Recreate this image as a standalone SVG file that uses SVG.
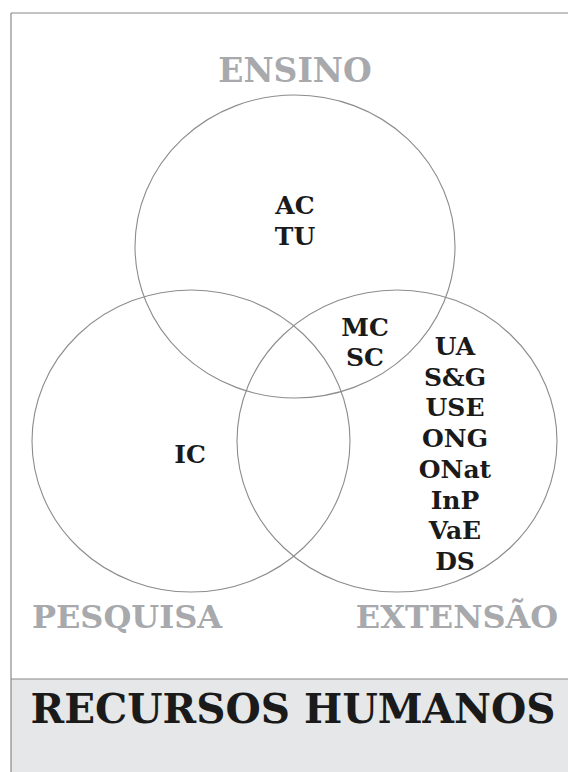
<svg xmlns="http://www.w3.org/2000/svg" width="568" height="772" viewBox="0 0 568 772">
<style>
.frame{fill:none;stroke:#8a8a8a;stroke-width:1.2}
.ring{fill:none;stroke:#8c8c8c;stroke-width:1.1}
.lab{font-family:"DejaVu Serif","Liberation Serif",serif;font-weight:bold;fill:#a7a9ac;text-anchor:middle}
.item{font-family:"DejaVu Serif","Liberation Serif",serif;font-weight:bold;fill:#1a1a1a;text-anchor:middle;font-size:25px}
.title{font-family:"DejaVu Serif","Liberation Serif",serif;font-weight:bold;fill:#1a1a1a;text-anchor:middle;font-size:40.5px}
</style>
<rect x="0" y="0" width="568" height="772" fill="#ffffff"/>
<g id="frame">
<rect x="11" y="679" width="557" height="93" fill="#e6e7e8"/>
<line class="frame" x1="11" y1="13" x2="568" y2="13"/>
<line class="frame" x1="11" y1="13" x2="11" y2="772"/>
<line class="frame" x1="11" y1="679" x2="568" y2="679"/>
</g>
<g id="ensino">
<ellipse class="ring" cx="295" cy="246.5" rx="160" ry="151.5"/>
<text class="lab" x="295" y="82" font-size="33">ENSINO</text>
<text class="item" x="295" y="214">AC</text>
<text class="item" x="295" y="245">TU</text>
</g>
<g id="pesquisa">
<ellipse class="ring" cx="191" cy="441" rx="159" ry="151"/>
<text class="lab" x="127" y="628" font-size="32">PESQUISA</text>
<text class="item" x="190" y="463">IC</text>
</g>
<g id="extensao">
<ellipse class="ring" cx="397" cy="441" rx="160" ry="151"/>
<text class="lab" x="457" y="628" font-size="32">EXTENSÃO</text>
<text class="item" x="455" y="355">UA</text>
<text class="item" x="455" y="385.7">S&amp;G</text>
<text class="item" x="455" y="416.4">USE</text>
<text class="item" x="455" y="447">ONG</text>
<text class="item" x="455" y="477.8">ONat</text>
<text class="item" x="455" y="508.5">InP</text>
<text class="item" x="455" y="539">VaE</text>
<text class="item" x="455" y="570">DS</text>
</g>
<g id="ensino-extensao">
<text class="item" x="365" y="336">MC</text>
<text class="item" x="365" y="366">SC</text>
</g>
<g id="recursos-humanos">
<text class="title" x="293" y="723">RECURSOS HUMANOS</text>
</g>
<g id="connectors"></g>
</svg>
